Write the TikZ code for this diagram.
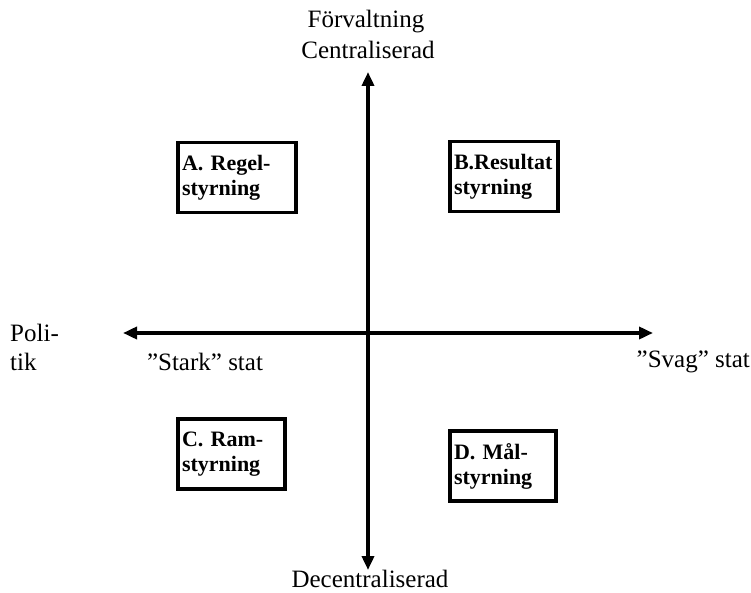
\documentclass[tikz,border=0pt]{standalone}
\usepackage{fontspec}
\setmainfont{Liberation Serif}
\usetikzlibrary{arrows.meta}

\tikzset{
  axis/.style={line width=3.5pt, {Triangle[length=14pt,width=12pt]}-{Triangle[length=14pt,width=12pt]}},
  quad/.style={draw, line width=3.5pt, align=left, inner xsep=4pt, minimum height=70pt,
    font=\fontsize{22}{25}\selectfont\bfseries},
  lbl/.style={font=\fontsize{25}{29}\selectfont, inner sep=0pt}
}

\begin{document}
\begin{tikzpicture}[x=1pt,y=-1pt]
	\useasboundingbox (0,0) rectangle (751,593);
	% axes
	\coordinate (top) at (368,72);
	\coordinate (bottom) at (368,570);
	\coordinate (west) at (123,333);
	\coordinate (east) at (653,333);
	\draw[axis] (top) -- (bottom);
	\draw[axis] (west) -- (east);
	% axis labels
	\node[lbl] (forv) at (366,22) {Förvaltning};
	\node[lbl] (cent) at (368,50) {Centraliserad};
	\node[lbl, anchor=base] (decent) at (370,587) {Decentraliserad};
	\node[lbl, align=left, anchor=west] (pol) at (10,347) {Poli-\\tik};
	\node[lbl] (stark) at (205,362) {”Stark” stat};
	\node[lbl, anchor=east] (svag) at (750,362) {”Svag” stat};
	% quadrants
	\node[quad, text width=110pt] (regel) at (237,177.5) {A. Regel-\\styrning};
	\node[quad, text width=100pt] (result) at (504,176.5) {B.Resultat\\styrning};
	\node[quad, text width=99pt] (ram) at (231.5,454) {C. Ram-\\styrning};
	\node[quad, text width=98pt] (mal) at (503,466) {D. Mål-\\styrning};
\end{tikzpicture}
\end{document}
